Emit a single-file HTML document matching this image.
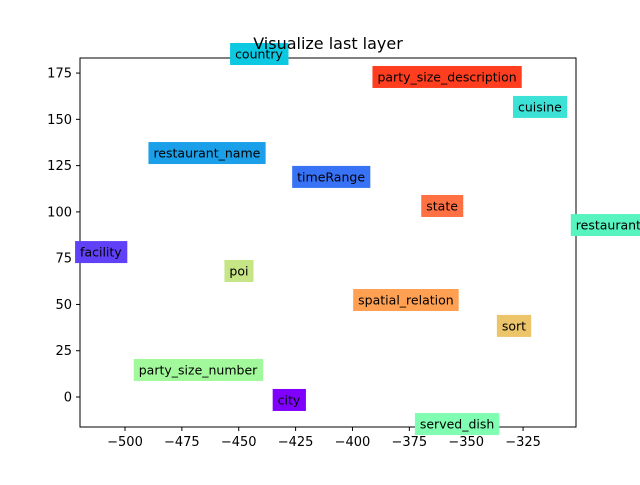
<!DOCTYPE html>
<html><head><meta charset="utf-8"><style>
body{margin:0;background:#fff;}
svg{font-family:"DejaVu Sans","Liberation Sans",sans-serif;}
</style></head><body>
<svg id="chart" width="640" height="480" viewBox="0 0 640 480">
<rect width="640" height="480" fill="#fff"/>
<rect x="80" y="58" width="496" height="369" fill="none" stroke="#000" stroke-width="1"/>
<g id="axes"></g>
<g id="labels"></g>
<text x="328" y="49" text-anchor="middle" font-size="16">Visualize last layer</text>
</svg>
<script>
const labels = ["country","party_size_description","cuisine","restaurant_name","timeRange","state","restaurant","facility","poi","spatial_relation","sort","party_size_number","city","served_dish"];
const xs = [-441.1,-358.4,-317.6,-464.0,-409.4,-360.6,-287.5,-510.6,-449.9,-376.5,-329.0,-467.9,-427.9,-354.0];
const ys = [185.3,172.9,156.7,131.8,118.9,103.2,92.9,78.3,68.1,52.4,38.4,14.6,-1.6,-14.6];
const colors = ["#0cc8e0","#ff3e1f","#3ce2d6","#1a9fe8","#3872f5","#ff7042","#58f4c0","#6141f8","#c6e585","#ffa052","#ecc56a","#a2f99b","#8000ff","#80ffb3"];
const xTicks = [-500,-475,-450,-425,-400,-375,-350,-325];
const yTicks = [0,25,50,75,100,125,150,175];
const NS="http://www.w3.org/2000/svg";
function sx(v){return 125+(v+500)*2.2747;}
function sy(v){return 397-v*1.851;}
const ax=document.getElementById('axes');
xTicks.forEach(t=>{
 const l=document.createElementNS(NS,'line');
 l.setAttribute('x1',sx(t));l.setAttribute('x2',sx(t));l.setAttribute('y1',427);l.setAttribute('y2',431);l.setAttribute('stroke','#000');
 
 
 ax.appendChild(l);
 const tx=document.createElementNS(NS,'text');
 tx.setAttribute('x',sx(t));tx.setAttribute('y',446);tx.setAttribute('text-anchor','middle');tx.setAttribute('font-size','13');
 tx.textContent=String(t).replace('-','\u2212');
 
 
 ax.appendChild(tx);
});
yTicks.forEach(t=>{
 const l=document.createElementNS(NS,'line');
 l.setAttribute('x1',76);l.setAttribute('x2',80);l.setAttribute('y1',sy(t));l.setAttribute('y2',sy(t));l.setAttribute('stroke','#000');
 
 
 ax.appendChild(l);
 const tx=document.createElementNS(NS,'text');
 tx.setAttribute('x',72);tx.setAttribute('y',sy(t)+4.5);tx.setAttribute('text-anchor','end');tx.setAttribute('font-size','13');
 tx.textContent=String(t);
 
 
 ax.appendChild(tx);
});
const lg=document.getElementById('labels');
labels.forEach((lab,i)=>{
 const g=document.createElementNS(NS,'g');
 
 
 const r=document.createElementNS(NS,'rect');
 const tx=document.createElementNS(NS,'text');
 tx.setAttribute('x',sx(xs[i]));tx.setAttribute('y',sy(ys[i])+4.5);tx.setAttribute('text-anchor','middle');tx.setAttribute('font-size','12.5');
 tx.textContent=lab;
 g.appendChild(r);g.appendChild(tx);lg.appendChild(g);
 const b=tx.getBBox();
 r.setAttribute('x',b.x-5);r.setAttribute('width',b.width+10);
 r.setAttribute('y',sy(ys[i])-11);r.setAttribute('height',22);
 r.setAttribute('fill',colors[i]);
});
</script>
</body></html>
